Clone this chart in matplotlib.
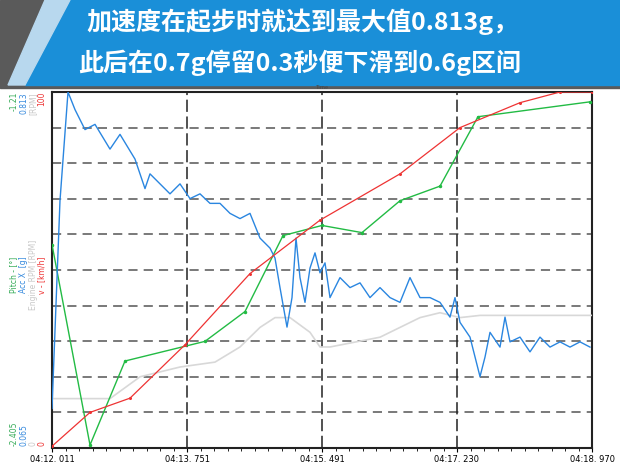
import matplotlib
matplotlib.use("Agg")
import matplotlib.pyplot as plt
from matplotlib.patches import Polygon, Rectangle
import numpy as np

plt.rcParams['font.family'] = ['Noto Sans CJK SC', 'DejaVu Sans']

T_END = 6.959
def px_t(p): return [(x - 52) / 540 * T_END for x in p]

# velocity km/h
v_t = px_t([52, 90, 130, 185, 250, 320, 400, 460, 520, 560, 592])
v_val = [0.5, 10, 14, 29, 49, 64, 77, 90, 97, 100, 100]

# Acc X [g]
acc_t = px_t([52,60,68,75,85,95,110,120,135,145,150,160,170,180,190,200,210,220,230,240,250,260,270,275,280,287,292,296,300,305,310,315,320,325,330,340,350,360,370,380,390,400,410,420,430,440,450,455,460,470,480,485,490,500,505,510,520,530,540,550,560,570,580,590])
acc_val = [0.148,0.585,0.813,0.776,0.734,0.745,0.693,0.724,0.672,0.610,0.641,0.620,0.599,0.620,0.589,0.599,0.579,0.579,0.558,0.547,0.558,0.506,0.485,0.464,0.402,0.319,0.381,0.506,0.423,0.371,0.443,0.475,0.433,0.454,0.381,0.423,0.402,0.412,0.381,0.402,0.381,0.371,0.423,0.381,0.381,0.371,0.340,0.381,0.329,0.298,0.215,0.256,0.308,0.277,0.340,0.288,0.298,0.267,0.298,0.277,0.288,0.277,0.288,0.277]

# Pitch [deg]
p_t = px_t([52, 90, 125, 205, 245, 283, 322, 362, 400, 440, 478, 590])
p_val = [-1.722, -2.395, -2.113, -2.047, -1.947, -1.692, -1.658, -1.682, -1.575, -1.526, -1.293, -1.243]

# Engine RPM
r_t = px_t([52,110,140,180,215,240,260,275,290,310,320,330,380,400,420,440,460,480,520,595])
r_val = [1110,1110,1600,1820,1930,2270,2710,2930,2930,2600,2270,2270,2490,2710,2930,3040,2930,2980,2980,2980]

tick_pos = [0, 1.740, 3.480, 5.219, 6.959]
tick_lab = ["04:12. 011", "04:13. 751", "04:15. 491", "04:17. 230", "04:18. 970"]

fig = plt.figure(figsize=(6.2, 4.65), dpi=100)
fig.patch.set_facecolor('white')
W, H = 620, 465
def fx(x): return x / W
def fy(y): return 1 - y / H

# header
fig.patches.append(Rectangle((0, fy(88)), 1, 88 / H, transform=fig.transFigure, color='#5a5a5a', zorder=0))
fig.patches.append(Polygon([(fx(70), fy(0)), (1, fy(0)), (1, fy(85)), (fx(25), fy(85))], closed=True,
                           transform=fig.transFigure, color='#1a8fd8', zorder=1))
fig.patches.append(Polygon([(fx(45), fy(0)), (fx(70), fy(0)), (fx(25), fy(85)), (fx(8), fy(85))], closed=True,
                           transform=fig.transFigure, color='#b8d8ee', zorder=1))
fig.text(fx(86), fy(22), "加速度在起步时就达到最大值0.813g，", color='white', fontsize=18,
         fontweight='bold', style='italic', va='center', ha='left')
fig.text(fx(78), fy(63), "此后在0.7g停留0.3秒便下滑到0.6g区间", color='white', fontsize=18,
         fontweight='bold', style='italic', va='center', ha='left')

BOT = 448
rect = [fx(52), fy(BOT), (592 - 52) / W, (BOT - 92) / H]
ax = fig.add_axes(rect)
ax.set_xlim(0, T_END)
ax.set_ylim(0, 100)
for y in np.arange(10, 100, 10):
    ax.axhline(y, color='#555555', ls=(0, (6, 4)), lw=1.1, zorder=1)
for t in tick_pos[1:4]:
    ax.axvline(t, color='#222222', ls=(0, (8, 3)), lw=1.1, zorder=1)
ax.set_xticks(tick_pos)
ax.set_xticklabels(tick_lab, fontsize=6, family='DejaVu Sans')
ax.set_yticks([])
ax.xaxis.set_minor_locator(matplotlib.ticker.MultipleLocator(T_END / 40))
ax.tick_params(axis='x', length=3, pad=2)
ax.tick_params(axis='x', which='minor', length=2)
for s in ax.spines.values():
    s.set_color('#222222'); s.set_linewidth(1.5)

def twin(lo, hi):
    a = fig.add_axes(rect, frameon=False)
    a.set_xlim(0, T_END); a.set_ylim(lo, hi); a.axis('off')
    return a

twin(0, 8000).plot(r_t, r_val, color='#d8d8d8', lw=1.2)
ap = twin(-2.405, -1.21); ap.plot(p_t, p_val, color='#22bb44', lw=1.0, marker='o', ms=1.5)
twin(0.065, 0.813).plot(acc_t, acc_val, color='#2a86e0', lw=1.0)
twin(0, 100).plot(v_t, v_val, color='#ee3333', lw=0.9, marker='o', ms=1.2)

cols = [(14, '#33aa55'), (24, '#3388dd'), (33, '#c8c8c8'), (42, '#ee3333')]
tops = ["-1.21", "0.813", "[RPM]", "100"]
bots = ["-2.405", "0.065", "0", "0"]
mids = ["Pitch - [°]", "Acc X  [g]", "Engine RPM [RPM]", "v - [km/h]"]
for (x, c), t, b, m in zip(cols, tops, bots, mids):
    fig.text(fx(x), fy(92), t, color=c, fontsize=5.5, rotation=90, ha='center', va='top', family='DejaVu Sans')
    fig.text(fx(x), fy(BOT - 2), b, color=c, fontsize=5.5, rotation=90, ha='center', va='bottom', family='DejaVu Sans')
    fig.text(fx(x), fy(275), m, color=c, fontsize=5.5, rotation=90, ha='center', va='center', family='DejaVu Sans')
fig.text(fx(322), fy(90), "Time", fontsize=4, ha='center', va='bottom', color='#444444')

fig.savefig("out.png", dpi=100)
